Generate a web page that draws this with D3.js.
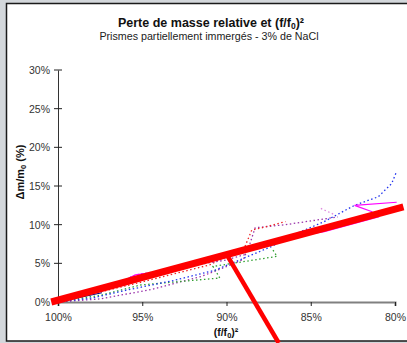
<!DOCTYPE html>
<html>
<head>
<meta charset="utf-8">
<script src="https://cdn.jsdelivr.net/npm/d3@7"></script>
<style>
  body { margin: 0; background: #d3d7db; }
  svg { display: block; font-family: "Liberation Sans", Arial, sans-serif; }
</style>
</head>
<body>
<script>
// tick labels
let xTicks = [100, 95, 90, 85, 80];
let yTicks = [0, 5, 10, 15, 20, 25, 30];

// series: [ (f/f0)² in %, mass loss in % ]
let blueDot = [[100,0],[98,0.5],[96,1.5],[93.1,2.8],[90.7,4.1],[89.7,5.0],[87.3,7.2],[85.8,8.9],[84.2,10.4],[82.4,12.5],[81,13.6],[80.2,15.3],[79.9,16.9]];
let navySolid = [[100,0],[97.4,1.2]];
let greenDot = [[100,0],[97.4,0.9],[95.1,2.2],[90.4,3.1],[90.8,4.6],[87.0,5.9],[87.3,6.9]];
let purpleDot = [[100,0],[97.5,0.4],[94.5,1.6],[91.5,3.3],[90.2,4.4],[89,5.5],[88.6,7.6],[88.3,9.6],[86.5,10.0],[83.4,11.0]];
let purpleDot2 = [[100,0],[96.5,2.4],[95.4,3.5],[90.1,5.4],[88.8,6.2]];
let redDot = [[100,0],[95,2.6],[91,4.8],[88.9,7.2],[88.5,9.3],[87.7,9.7],[86.5,10.4]];
let magentaSolid = [[100,0],[97,1.8],[95.4,3.5],[93.5,4.1],[90,5.8],[86.2,8.4],[84.2,9.1],[81.0,11.0],[81.4,11.7],[82.4,12.5],[79.9,12.9]];
let pinkDot = [[84.4,12.1],[83.6,11.3]];
let trend = [[100.4,0],[79.5,12.3]];
let marker = [[89.9,5.8],[86.9,-5.3]];

let W = 407, H = 343;

let x = d3.scaleLinear().domain([100, 80]).range([58, 395]);
let y = d3.scaleLinear().domain([0, 30]).range([302, 70]);

let svg = d3.select("body").append("svg")
    .attr("width", W)
    .attr("height", H);

// chart frame
svg.append("rect")
    .attr("x", 6.5).attr("y", 3.5)
    .attr("width", 420).attr("height", 337.5)
    .attr("fill", "#fff")
    .attr("stroke", "#1a1a1a")
    .attr("stroke-width", 1.5);

// titles
svg.append("text")
    .attr("x", 211).attr("y", 27)
    .attr("text-anchor", "middle")
    .attr("font-size", 12.5).attr("font-weight", "bold")
    .attr("fill", "#111")
    .html('Perte de masse relative et (f/f<tspan font-size="8.5" dy="2">0</tspan><tspan dy="-2">)²</tspan>');

svg.append("text")
    .attr("x", 209).attr("y", 40)
    .attr("text-anchor", "middle")
    .attr("font-size", 10.7)
    .attr("fill", "#222")
    .text("Prismes partiellement immergés - 3% de NaCl");

// y axis
let yAxis = svg.append("g")
    .attr("transform", "translate(58,0)")
    .call(d3.axisLeft(y).tickValues(yTicks).tickSize(0).tickFormat(d => d + "%"));
yAxis.select(".domain").attr("stroke", "#333");
yAxis.selectAll("text").attr("font-size", 10.5).attr("fill", "#333")
    .attr("font-family", "Liberation Sans, Arial, sans-serif")
    .attr("x", -8);
svg.append("g").selectAll("line")
    .data(yTicks)
    .enter().append("line")
    .attr("x1", 54).attr("x2", 62)
    .attr("y1", d => y(d)).attr("y2", d => y(d))
    .attr("stroke", "#222");

// x axis
let xAxis = svg.append("g")
    .attr("transform", "translate(0,302)")
    .call(d3.axisBottom(x).tickValues(xTicks).tickSize(4).tickPadding(8).tickFormat(d => d + "%"));
xAxis.select(".domain").attr("stroke", "#808080").attr("stroke-width", 2);
xAxis.selectAll(".tick line").attr("stroke", "#222");
xAxis.selectAll("text").attr("font-size", 10.5).attr("fill", "#333")
    .attr("font-family", "Liberation Sans, Arial, sans-serif");

// axis titles
svg.append("text")
    .attr("x", 226).attr("y", 336)
    .attr("text-anchor", "middle")
    .attr("font-size", 10.5).attr("font-weight", "bold")
    .attr("fill", "#111")
    .html('(f/f<tspan font-size="7.5" dy="2">0</tspan><tspan dy="-2">)²</tspan>');

svg.append("text")
    .attr("transform", "translate(24,172) rotate(-90)")
    .attr("text-anchor", "middle")
    .attr("font-size", 11).attr("font-weight", "bold")
    .attr("fill", "#111")
    .html('Δm/m<tspan font-size="7.5" dy="2">0</tspan><tspan dy="-2"> (%)</tspan>');

// lines
let line = d3.line()
    .x(function(d) { return x(d[0]); })
    .y(function(d) { return y(d[1]); });

function addSeries(data, color, width, dash) {
    svg.append("path")
        .datum(data)
        .attr("fill", "none")
        .attr("stroke", color)
        .attr("stroke-width", width)
        .attr("stroke-dasharray", dash)
        .attr("d", line);
}

addSeries(purpleDot, "#9933aa", 1.3, "1.5,2.5");
addSeries(greenDot, "#33a033", 1.3, "1.5,2.5");
addSeries(blueDot, "#2233ee", 1.3, "1.5,2.5");
addSeries(redDot, "#ee2222", 1.3, "1.5,2.5");
addSeries(purpleDot2, "#9933aa", 1.3, "1.5,2.5");
addSeries(pinkDot, "#dd88dd", 1.3, "1.5,2.5");
addSeries(navySolid, "#000080", 1.2, null);
addSeries(magentaSolid, "#ff00ff", 1.2, null);

// trend line + marker
addSeries(trend, "#ff0000", 7, null);
addSeries(marker, "#ff0000", 4.5, null);
</script>
</body>
</html>
